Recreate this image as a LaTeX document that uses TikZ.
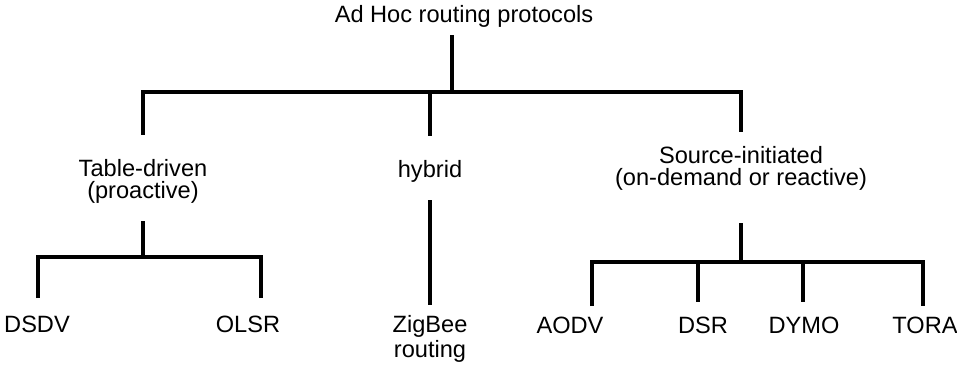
\documentclass[tikz,border=0pt]{standalone}
\usepackage{fontspec}
\setmainfont{Liberation Sans}
\usepackage{xcolor}
\usepackage{tikz}
\definecolor{treeline}{HTML}{000000}

\tikzset{
  proto/.style={font=\fontsize{11.8}{11}\selectfont, align=center, inner sep=0pt, anchor=base},
  branch/.style={draw=treeline, line width=1.7pt},
}

\begin{document}
\begin{tikzpicture}[x=0.5pt, y=-0.5pt]
\fill[white] (0,0) rectangle (957,365);
\useasboundingbox (0,0) rectangle (957,365);

\node[proto] (root) at (464,22) {Ad Hoc routing protocols};
\node[proto] (table) at (143,198) {Table-driven\\(proactive)};
\node[proto] (hybrid) at (430,177) {hybrid};
\node[proto] (source) at (741,185) {Source-initiated\\(on-demand or reactive)};
\node[proto] (dsdv) at (37,332) {DSDV};
\node[proto] (olsr) at (248,332) {OLSR};
\node[proto] (zigbee) at (430,357) {ZigBee\\[1.5pt]routing};
\node[proto] (aodv) at (570,333) {AODV};
\node[proto] (dsr) at (703,333) {DSR};
\node[proto] (dymo) at (804,333) {DYMO};
\node[proto] (tora) at (925,333) {TORA};

\coordinate (top) at (452,92);
\coordinate (tsplit) at (145,257);
\coordinate (dsdv-in) at (38,257);
\coordinate (olsr-in) at (261,257);
\coordinate (ssplit) at (743,262);
\coordinate (aodv-in) at (592,262);
\coordinate (dsr-in) at (698,262);
\coordinate (dymo-in) at (803,262);
\coordinate (tora-in) at (923,262);

\draw[branch, shorten <=4pt] (root.south -| top) -- (top);
\draw[branch, shorten <=12pt, shorten >=7pt] (table.north) -- (top -| table) -- (top -| source) -- (source.north);
\draw[branch, shorten >=12pt] (top -| hybrid) -- (hybrid.north);

\draw[branch, shorten <=9pt] (table.south) -- (table.south |- tsplit);
\draw[branch, shorten <=8.5pt, shorten >=8.5pt] (dsdv.north -| dsdv-in) -- (dsdv-in) -- (olsr-in) -- (olsr-in |- olsr.north);

\draw[branch, shorten <=9pt, shorten >=5pt] (hybrid.south) -- (zigbee.north);

\draw[branch, shorten <=16.5pt] (source.south) -- (source.south |- ssplit);
\draw[branch, shorten <=5pt, shorten >=5pt] (aodv.north -| aodv-in) -- (aodv-in) -- (tora-in) -- (tora-in |- tora.north);
\draw[branch, shorten >=7pt] (dsr-in) -- (dsr-in |- dsr.north);
\draw[branch, shorten >=7pt] (dymo-in) -- (dymo-in |- dymo.north);
\end{tikzpicture}
\end{document}
